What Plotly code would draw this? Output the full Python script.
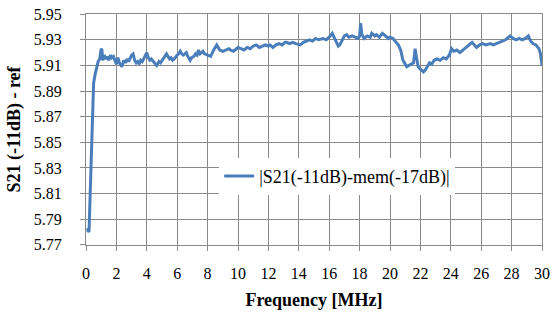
import plotly.graph_objects as go

freq = [0.10, 0.15, 0.20, 0.25, 0.30, 0.35, 0.40, 0.45, 0.50, 0.60, 0.70, 0.80, 0.90, 1.00, 1.05, 1.10,
        1.20, 1.30, 1.40, 1.50, 1.60, 1.70, 1.80, 1.90, 2.00, 2.10, 2.20, 2.35, 2.50, 2.60, 2.70, 2.80,
        2.90, 3.00, 3.10, 3.20, 3.30, 3.40, 3.50, 3.60, 3.70, 3.80, 3.90, 4.00, 4.10, 4.20, 4.30, 4.40,
        4.50, 4.65, 4.80, 4.90, 5.00, 5.10, 5.20, 5.30, 5.40, 5.50, 5.60, 5.70, 5.80, 5.90, 6.00, 6.10,
        6.20, 6.30, 6.40, 6.50, 6.60, 6.70, 6.85, 6.95, 7.10, 7.20, 7.30, 7.40, 7.50, 7.60, 7.70, 7.80,
        8.00, 8.20, 8.40, 8.60, 8.70, 8.80, 9.00, 9.20, 9.40, 9.50, 9.70, 9.90, 10.00, 10.20, 10.40, 10.60,
        10.80, 11.00, 11.20, 11.40, 11.60, 11.80, 12.00, 12.10, 12.30, 12.50, 12.70, 12.90, 13.10, 13.20,
        13.40, 13.60, 13.80, 14.00, 14.10, 14.30, 14.50, 14.70, 14.90, 15.10, 15.30, 15.50, 15.60, 15.80,
        16.00, 16.20, 16.35, 16.50, 16.60, 16.70, 16.85, 17.00, 17.15, 17.30, 17.50, 17.70, 17.90, 18.00,
        18.07, 18.15, 18.30, 18.50, 18.70, 18.80, 19.00, 19.10, 19.30, 19.50, 19.70, 19.90, 20.00, 20.20,
        20.40, 20.55, 20.70, 20.85, 21.00, 21.10, 21.25, 21.40, 21.55, 21.65, 21.75, 21.85, 22.00, 22.20,
        22.35, 22.50, 22.60, 22.75, 22.90, 23.10, 23.30, 23.50, 23.70, 23.90, 24.05, 24.20, 24.40, 24.60,
        24.80, 25.00, 25.20, 25.40, 25.55, 25.70, 25.90, 26.10, 26.30, 26.50, 26.60, 26.80, 27.00, 27.20,
        27.40, 27.60, 27.90, 28.10, 28.30, 28.50, 28.70, 28.90, 29.10, 29.25, 29.40, 29.60, 29.80, 29.90,
        30.00]

s21 = [5.783, 5.780, 5.781, 5.800, 5.825, 5.850, 5.872, 5.888, 5.896, 5.903, 5.909, 5.913, 5.915, 5.923, 5.922, 5.914,
       5.918, 5.915, 5.917, 5.914, 5.918, 5.916, 5.917, 5.913, 5.911, 5.916, 5.912, 5.909, 5.914, 5.912, 5.915, 5.913,
       5.916, 5.918, 5.919, 5.914, 5.912, 5.913, 5.911, 5.914, 5.913, 5.915, 5.918, 5.920, 5.916, 5.914, 5.915, 5.913,
       5.912, 5.910, 5.913, 5.912, 5.914, 5.915, 5.917, 5.919, 5.917, 5.915, 5.916, 5.914, 5.915, 5.917, 5.918, 5.919,
       5.921, 5.919, 5.918, 5.919, 5.920, 5.917, 5.914, 5.916, 5.917, 5.919, 5.918, 5.922, 5.919, 5.920, 5.921, 5.919,
       5.918, 5.917, 5.922, 5.926, 5.924, 5.922, 5.921, 5.922, 5.923, 5.922, 5.921, 5.923, 5.924, 5.923, 5.922, 5.924,
       5.923, 5.925, 5.926, 5.924, 5.925, 5.926, 5.925, 5.926, 5.924, 5.926, 5.927, 5.926, 5.928, 5.928,
       5.927, 5.928, 5.927, 5.926, 5.926, 5.928, 5.929, 5.930, 5.929, 5.931, 5.930, 5.931, 5.931, 5.930,
       5.932, 5.935, 5.931, 5.927, 5.925, 5.926, 5.930, 5.933, 5.934, 5.932, 5.933, 5.932, 5.931, 5.933,
       5.943, 5.934, 5.931, 5.933, 5.932, 5.935, 5.933, 5.934, 5.932, 5.935, 5.933, 5.931, 5.932, 5.931,
       5.928, 5.926, 5.922, 5.914, 5.911, 5.909, 5.910, 5.911, 5.912, 5.923, 5.916, 5.909, 5.907, 5.905,
       5.907, 5.910, 5.912, 5.911, 5.914, 5.915, 5.914, 5.916, 5.915, 5.918, 5.923, 5.921, 5.922, 5.920,
       5.922, 5.924, 5.926, 5.928, 5.926, 5.924, 5.926, 5.927, 5.926, 5.927, 5.927, 5.926, 5.927, 5.928,
       5.929, 5.930, 5.933, 5.931, 5.930, 5.931, 5.930, 5.931, 5.933, 5.929, 5.927, 5.926, 5.923, 5.919,
       5.910]

x_ticks = [0, 2, 4, 6, 8, 10, 12, 14, 16, 18, 20, 22, 24, 26, 28, 30]
y_ticks = [5.77, 5.79, 5.81, 5.83, 5.85, 5.87, 5.89, 5.91, 5.93, 5.95]
y_tick_labels = ["5.77", "5.79", "5.81", "5.83", "5.85", "5.87", "5.89", "5.91", "5.93", "5.95"]

series_name = "|S21(-11dB)-mem(-17dB)|"
x_title = "Frequency [MHz]"
y_title = "S21 (-11dB) - ref"

FONT = "Times New Roman, Liberation Serif, serif"
GRID = "#8a8a8a"

fig = go.Figure()
fig.add_trace(go.Scatter(x=freq, y=s21, mode="lines", name=series_name,
                         line=dict(color="#4A7EBB", width=3), showlegend=True))

fig.update_layout(
    width=554, height=316,
    margin=dict(l=86, r=12, t=14, b=71, autoexpand=False),
    paper_bgcolor="white", plot_bgcolor="white",
    font=dict(family=FONT, size=16, color="black"),
    showlegend=True,
    legend=dict(x=0.292, y=0.377, xanchor="left", yanchor="top",
                bgcolor="white", borderwidth=0, font=dict(size=18, family=FONT)),
    xaxis=dict(range=[0, 30], tickvals=x_ticks, showgrid=True, gridcolor=GRID, gridwidth=1,
               showline=True, linecolor=GRID, linewidth=1, mirror=True, automargin=False,
               ticks="outside", ticklen=5, tickcolor=GRID, ticklabelstandoff=9,
               ticklabeloverflow="allow",
               zeroline=False, tickfont=dict(family=FONT, size=16),
               title=dict(text="<b>" + x_title + "</b>", font=dict(size=18, family=FONT), standoff=12)),
    yaxis=dict(range=[5.7699, 5.9501], tickvals=y_ticks, ticktext=y_tick_labels, showgrid=True,
               gridcolor=GRID, gridwidth=1, showline=True, linecolor=GRID, linewidth=1, mirror=True,
               automargin=False, ticklabeloverflow="allow",
               ticks="outside", ticklen=5, tickcolor=GRID, ticklabelstandoff=15,
               zeroline=False, tickfont=dict(family=FONT, size=16),
               title=dict(text="<b>" + y_title + "</b>", font=dict(size=18, family=FONT), standoff=8)),
)

fig.write_html("out.html", config={"displayModeBar": False},
               post_script="document.body.style.margin='0';")
